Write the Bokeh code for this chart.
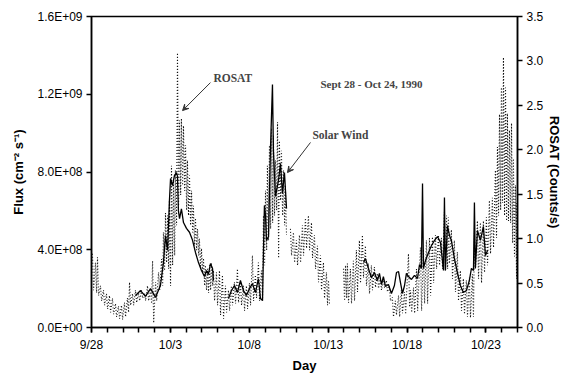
import math

from bokeh.embed import file_html
from bokeh.models import (Arrow, FixedTicker, Label, LinearAxis,
                          NumeralTickFormatter, Range1d, VeeHead)
from bokeh.plotting import figure
from bokeh.resources import INLINE

nan = float("nan")

# Solar wind flux, days after 9/28/1990, flux in units of 1e8 cm^-2 s^-1
sw_day = [2.79, 3.11, 3.42, 3.74, 4.06, 4.37, 4.56, 4.69, 4.82, 4.94, 5.01, 5.13,
          5.26, 5.39, 5.45, 5.51, 5.58, 5.70, 5.83, 6.02, 6.21, 6.40, 6.59, 6.78,
          6.97, 7.16, 7.29, 7.41, 7.54, 7.67, 7.73, nan,
          8.68, 8.87, 9.06, 9.25, 9.44, 9.63, 9.82, 10.01, 10.20, 10.39, 10.58,
          10.71, 10.84, 10.90, 10.96, 11.03, 11.09, 11.22, 11.34, 11.47, 11.53,
          11.66, 11.85, 11.98, 12.10, 12.23, 12.36, nan,
          17.24, 17.36, 17.55, 17.74, 17.93, 18.12, 18.25, 18.38, 18.50, 18.63,
          18.82, 19.01, 19.20, 19.33, 19.46, 19.58, 19.71, 19.84, 19.96, 20.09,
          20.28, 20.47, 20.66, 20.79, 20.91, 20.98, 21.04, 21.17, 21.36, 21.55,
          21.74, 21.93, 22.12, 22.31, 22.37, 22.43, 22.56, 22.69, 22.81, 23.00,
          23.19, 23.38, 23.57, 23.76, 23.95, 24.08, 24.21, 24.27, 24.33, 24.46,
          24.65, 24.84, 24.97, 25.10]
sw_flux_e8 = [1.65, 1.90, 1.60, 2.00, 1.55, 2.16, 3.34, 4.73, 3.96, 6.53, 7.67, 7.30,
              7.82, 7.97, 7.77, 6.00, 5.60, 6.10, 5.40, 5.10, 4.90, 4.50, 3.86, 3.34,
              2.93, 2.62, 2.93, 2.73, 3.29, 3.04, 2.42, nan,
              1.49, 1.90, 2.16, 1.80, 2.42, 1.90, 1.65, 2.00, 2.26, 1.80, 2.52,
              1.49, 1.39, 3.96, 6.28, 5.76, 4.48, 4.68, 9.10, 12.5, 9.11,
              6.74, 7.56, 8.44, 6.89, 7.97, 6.12, nan,
              3.34, 3.55, 3.04, 2.57, 2.83, 2.42, 2.78, 2.21, 2.62, 2.11,
              2.21, 1.75, 2.16, 2.83, 2.88, 2.32, 1.75, 2.16, 2.78, 2.62,
              2.47, 2.68, 2.52, 3.24, 3.04, 7.41, 3.04, 3.45, 3.86, 4.22,
              4.48, 4.68, 4.37, 2.93, 6.69, 2.93, 5.25, 4.73, 4.48, 3.55,
              2.83, 2.16, 1.80, 1.90, 2.42, 3.04, 2.93, 6.43, 3.04, 4.99,
              4.48, 5.20, 3.70, 3.96]

# ROSAT count rate: upper and lower excursion of the orbit-modulated signal
rosat_day = [0.06, 0.25, 0.38, 0.57, 0.76, 0.95, 1.14, 1.33, 1.52, 1.71, 1.90, 2.09,
             2.28, 2.41, 2.60, 2.79, 2.98, 3.17, 3.36, 3.55, 3.74, 3.87, 4.06, 4.25,
             4.44, 4.56, 4.69, 4.82, 4.94, 5.07, 5.20, 5.32, 5.45, 5.58, 5.70, 5.83,
             5.96, 6.08, 6.21, 6.34, 6.46, 6.59, 6.72, 6.84, 6.97, 7.10, 7.22, 7.35,
             7.48, 7.60, 7.73, 7.92, 8.11, 8.30, 8.49, 8.68, 8.87, 9.06, 9.25, 9.44,
             9.63, 9.82, 10.01, 10.20, 10.39, 10.58, 10.77, 10.90, 11.03, 11.15,
             11.28, 11.41, 11.53, 11.66, 11.79, 11.91, 12.04, 12.17, 12.29, nan,
             12.61, 12.80, 12.99, 13.18, 13.37, 13.56, 13.75, 13.94, 14.13, 14.32,
             14.51, 14.70, 14.89, 15.02, nan,
             15.97, 16.10, 16.22, 16.41, 16.60, 16.79, 16.98, 17.17, 17.36, 17.55,
             17.74, 17.93, 18.12, 18.31, 18.50, 18.69, 18.88, 19.07, 19.26, 19.46,
             19.64, 19.84, 20.09, 20.22, 20.41, 20.60, 20.85, 21.04, 21.23, 21.42,
             21.61, 21.80, 21.99, 22.18, 22.37, 22.50, 22.62, 22.81, 23.00, 23.19,
             23.38, 23.57, 23.76, 23.95, 24.14, 24.27, 24.46, 24.65, 24.84, 25.03,
             25.22, 25.41, 25.60, 25.73, 25.86, 25.98, 26.11, 26.24, 26.36, 26.49,
             26.62, 26.74, 26.87, 26.93]
rosat_hi = [0.83, 0.73, 0.79, 0.47, 0.42, 0.38, 0.36, 0.33, 0.27, 0.24, 0.25, 0.28,
            0.33, 0.51, 0.38, 0.42, 0.39, 0.42, 0.39, 0.47, 0.42, 0.75, 0.51, 0.62,
            0.77, 1.07, 1.29, 1.26, 1.43, 1.82, 1.65, 1.77, 3.09, 2.33, 2.35, 2.27,
            2.05, 1.88, 1.71, 1.54, 1.37, 1.23, 1.11, 1.00, 0.89, 0.78, 0.70, 0.66,
            0.70, 0.73, 0.64, 0.62, 0.64, 0.59, 0.47, 0.42, 0.47, 0.51, 0.66, 0.51,
            0.47, 0.47, 0.50, 0.81, 0.59, 0.73, 0.64, 1.26, 1.54, 1.82,
            2.05, 2.24, 2.16, 1.88, 2.31, 2.10, 1.99, 1.77, 1.60, nan,
            1.11, 1.07, 0.98, 1.04, 1.15, 1.23, 1.26, 1.18, 1.04, 0.92,
            0.81, 0.73, 0.62, 0.53, nan,
            0.66, 0.70, 0.72, 0.66, 0.75, 0.87, 0.98, 1.04, 0.92, 0.72,
            0.70, 0.68, 0.61, 0.56, 0.55, 0.53, 0.47, 0.34, 0.30, 0.36,
            0.42, 0.40, 0.83, 0.42, 0.45, 0.66, 0.90, 0.88, 0.98, 1.01,
            1.02, 1.04, 1.04, 1.01, 1.30, 1.26, 1.24, 1.10, 0.98, 0.85,
            0.64, 0.55, 0.53, 0.56, 0.60, 1.06, 1.20, 1.18, 1.20, 1.24,
            1.43, 1.46, 1.77, 2.03, 2.40, 2.70, 3.04, 2.70, 2.41, 2.22,
            2.30, 1.90, 1.60, 1.40]
rosat_lo = [0.42, 0.39, 0.36, 0.30, 0.25, 0.21, 0.17, 0.15, 0.12, 0.10, 0.09, 0.12,
            0.17, 0.25, 0.25, 0.28, 0.30, 0.33, 0.30, 0.30, 0.27, 0.05, 0.30, 0.42,
            0.47, 0.64, 0.73, 0.66, 0.47, 0.70, 0.81, 1.15, 1.37, 1.49, 1.60, 1.54,
            1.32, 1.26, 1.15, 1.07, 0.92, 0.87, 0.81, 0.66, 0.62, 0.47, 0.42, 0.39,
            0.42, 0.47, 0.30, 0.25, 0.14, 0.10, 0.17, 0.19, 0.25, 0.27, 0.28, 0.25,
            0.19, 0.21, 0.25, 0.30, 0.33, 0.30, 0.30, 0.70, 0.87, 0.98,
            1.11, 1.18, 1.26, 1.32, 0.78, 1.43, 1.26, 1.15, 1.04, nan,
            0.81, 0.73, 0.70, 0.73, 0.81, 0.89, 0.87, 0.78, 0.66, 0.51,
            0.42, 0.33, 0.25, 0.25, nan,
            0.30, 0.33, 0.28, 0.27, 0.30, 0.40, 0.50, 0.56, 0.47, 0.38,
            0.42, 0.45, 0.44, 0.42, 0.45, 0.40, 0.30, 0.12, 0.14, 0.12,
            0.16, 0.15, 0.23, 0.17, 0.16, 0.19, 0.19, 0.27, 0.27, 0.36,
            0.50, 0.66, 0.70, 0.66, 0.64, 0.66, 0.72, 0.55, 0.40, 0.30,
            0.19, 0.15, 0.12, 0.11, 0.12, 0.68, 0.55, 0.50, 0.62, 0.70,
            0.83, 0.90, 1.01, 1.26, 1.32, 1.40, 1.26, 1.20, 1.20, 1.18,
            0.95, 0.80, 0.55, 0.42]

x_tick_days = [0, 5, 10, 15, 20, 25]
x_tick_labels = ["9/28", "10/3", "10/8", "10/13", "10/18", "10/23"]
flux_ticks = [0, 4e8, 8e8, 1.2e9, 1.6e9]
flux_tick_labels = ["0.0E+00", "4.0E+08", "8.0E+08", "1.2E+09", "1.6E+09"]
rate_ticks = [0.0, 0.5, 1.0, 1.5, 2.0, 2.5, 3.0, 3.5]

# zig-zag path through the orbit-modulated ROSAT envelope
LO_OFFSET = 0.07
zx, zy = [], []
for d, hi, lo in zip(rosat_day, rosat_hi, rosat_lo):
    if math.isnan(d):
        zx.append(nan)
        zy.append(nan)
        continue
    zx += [d, d + LO_OFFSET]
    zy += [hi, lo]

sw_flux = [v * 1e8 for v in sw_flux_e8]

SANS = "Liberation Sans"
SERIF = "Liberation Serif"

p = figure(width=566, height=375, output_backend="svg", toolbar_location=None,
           x_range=Range1d(0, 27), y_range=Range1d(0, 1.6e9),
           min_border_left=91, min_border_right=49, min_border_top=16,
           min_border_bottom=48)
p.background_fill_color = "white"
p.border_fill_color = "white"
p.outline_line_color = "black"
p.outline_line_width = 1.5
p.xgrid.visible = False
p.ygrid.visible = False

p.extra_y_ranges = {"rosat": Range1d(0, 3.5)}

p.line(zx, zy, y_range_name="rosat", line_color="#111111", line_width=1.1,
       line_dash="1 2")
p.line(sw_day, sw_flux, line_color="black", line_width=1.3)

# bottom axis
xa = p.xaxis[0]
xa.ticker = FixedTicker(ticks=x_tick_days, minor_ticks=list(range(0, 28)))
xa.major_label_overrides = dict(zip(x_tick_days, x_tick_labels))
xa.axis_label = "Day"

# left axis
ya = p.yaxis[0]
ya.ticker = FixedTicker(ticks=flux_ticks)
ya.major_label_overrides = dict(zip(flux_ticks, flux_tick_labels))
ya.axis_label = "Flux (cm\u207b\u00b2 s\u207b\u00b9)"

# right axis
ra = LinearAxis(y_range_name="rosat", axis_label="ROSAT (Counts/s)",
                ticker=FixedTicker(ticks=rate_ticks),
                formatter=NumeralTickFormatter(format="0.0"))
p.add_layout(ra, "right")

for ax in (xa, ya, ra):
    ax.axis_line_color = "black"
    ax.axis_line_width = 1.5
    ax.major_tick_line_color = "black"
    ax.major_tick_line_width = 1.5
    ax.major_tick_in = 0
    ax.major_tick_out = 5
    ax.minor_tick_line_color = None
    ax.major_label_text_font = SANS
    ax.major_label_text_font_size = "12px"
    ax.major_label_text_color = "black"
    ax.major_label_standoff = 4
    ax.axis_label_text_font = SANS
    ax.axis_label_text_font_style = "bold"
    ax.axis_label_text_font_size = "13px"
    ax.axis_label_text_color = "black"
    ax.axis_label_standoff = 8

ra.axis_label_standoff = 1
ra.major_label_standoff = 4

xa.minor_tick_line_color = "black"
xa.minor_tick_line_width = 1.5
xa.minor_tick_in = 0
xa.minor_tick_out = 5
xa.major_label_standoff = 5
xa.axis_label_standoff = 3

# annotations
p.add_layout(Label(x=7.73, y=1.286e9, text="ROSAT", text_font=SERIF,
                   text_font_style="bold", text_font_size="11.5px",
                   text_baseline="middle"))
p.add_layout(Label(x=14.0, y=0.988e9, text="Solar Wind", text_font=SERIF,
                   text_font_style="bold", text_font_size="11.5px",
                   text_baseline="middle"))
p.add_layout(Label(x=14.51, y=1.255e9, text="Sept 28 - Oct 24, 1990",
                   text_font=SERIF, text_font_style="bold",
                   text_font_size="11px", text_baseline="middle"))
p.add_layout(Arrow(end=VeeHead(size=6, line_width=1, line_color="#333333",
                               fill_color="#333333"),
                   x_start=7.54, y_start=1.26e9, x_end=5.77, y_end=1.116e9,
                   line_color="#333333", line_width=1))
p.add_layout(Arrow(end=VeeHead(size=6, line_width=1, line_color="#333333",
                               fill_color="#333333"),
                   x_start=13.88, y_start=0.952e9, x_end=12.42, y_end=0.797e9,
                   line_color="#333333", line_width=1))

open("out.html", "w").write(file_html(p, INLINE))
